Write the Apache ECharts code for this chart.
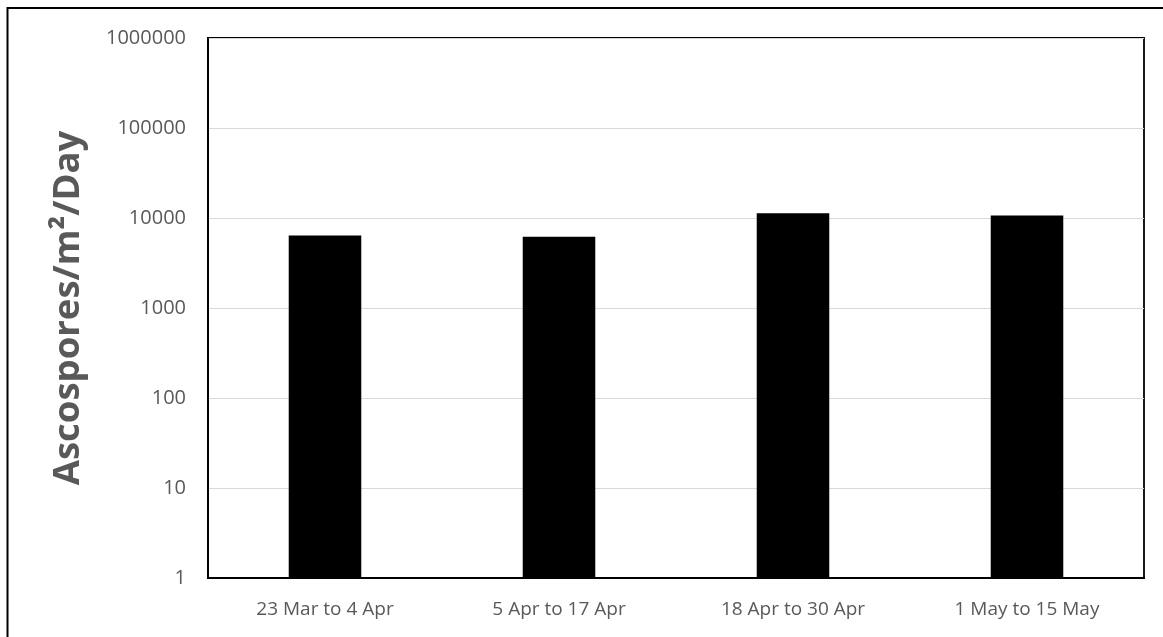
<!DOCTYPE html>
<html>
<head>
<meta charset="utf-8">
<script src="https://cdn.jsdelivr.net/npm/echarts@6/dist/echarts.min.js"></script>
<style>
  html, body { margin: 0; padding: 0; background: #fff; }
  #chart { width: 1163px; height: 637px; }
</style>
</head>
<body>
<div id="chart"></div>
<script>
// Sampling periods and ascospore deposition (log scale)
const periods = ['23 Mar to 4 Apr', '5 Apr to 17 Apr', '18 Apr to 30 Apr', '1 May to 15 May'];
const ascospores = [6390, 6200, 11300, 10650];
const yAxisTitle = 'Ascospores/m\u00B2/Day';

const chart = echarts.init(document.getElementById('chart'), null, { renderer: 'canvas' });

chart.setOption({
  animation: false,
  backgroundColor: '#fff',
  graphic: [{
    // outer frame; only its top and left edges fall inside the canvas
    type: 'rect',
    shape: { x: 7.5, y: 8, width: 1200, height: 700 },
    style: { fill: 'none', stroke: '#000', lineWidth: 2 },
    silent: true
  }],
  grid: {
    left: 208, right: 19, top: 38, bottom: 59,
    show: true, borderColor: '#000', borderWidth: 1.8, backgroundColor: 'transparent'
  },
  xAxis: {
    type: 'category',
    data: periods,
    axisLine: { show: true, lineStyle: { color: '#000', width: 1.8 } },
    axisTick: { show: false },
    axisLabel: {
      color: '#595959', fontSize: 19, margin: 22,
      fontFamily: 'Open Sans, sans-serif'
    }
  },
  yAxis: {
    type: 'log',
    logBase: 10,
    min: 1,
    max: 1000000,
    name: yAxisTitle,
    nameLocation: 'middle',
    nameGap: 121,
    nameTextStyle: {
      color: '#595959', fontSize: 36.5, fontWeight: 'bold',
      fontFamily: 'Open Sans, sans-serif'
    },
    axisLine: { show: true, lineStyle: { color: '#000', width: 1.8 } },
    axisTick: { show: false },
    splitLine: { show: true, lineStyle: { color: '#d9d9d9', width: 1 } },
    axisLabel: {
      color: '#595959', fontSize: 20, margin: 22,
      fontFamily: 'Open Sans, sans-serif',
      formatter: v => String(Math.round(v))
    }
  },
  series: [{
    type: 'bar',
    data: ascospores,
    barWidth: '31%',
    itemStyle: { color: '#000' }
  }]
});
</script>
</body>
</html>
